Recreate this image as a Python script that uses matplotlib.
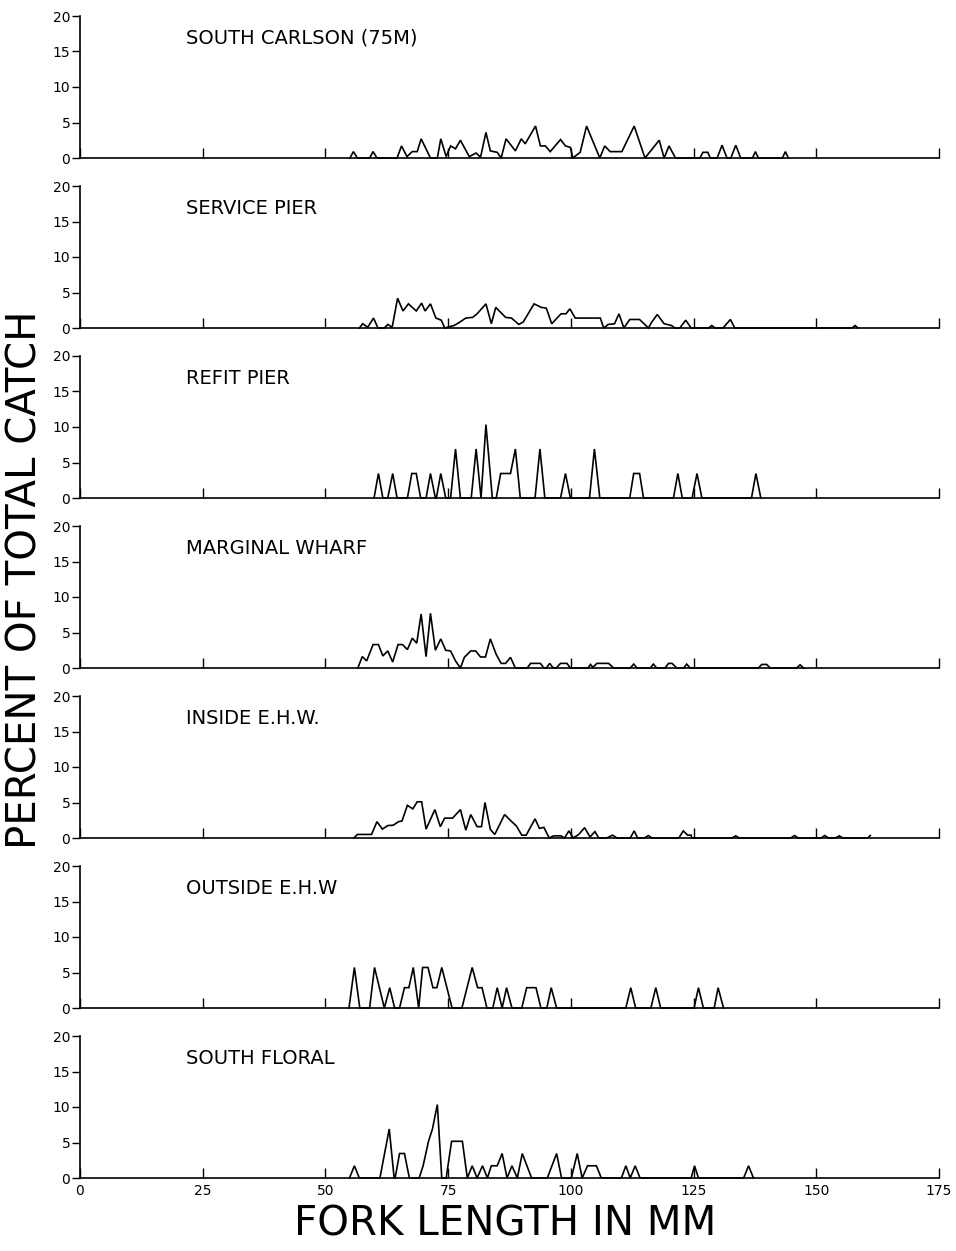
import matplotlib

matplotlib.use("Agg")
from matplotlib import pyplot as plt
from matplotlib import font_manager as fm

# fork length (mm) / percent of total catch, one pair per station
sc_len = [55.0, 55.7, 56.5, 59.0, 59.7, 60.5, 64.6, 65.5, 66.6, 67.7, 68.7, 69.5, 71.4,
          72.8, 73.5, 74.6, 75.5, 76.5, 77.5, 79.3, 80.7, 81.6, 82.7, 83.6, 85.0, 85.8,
          86.8, 88.7, 89.9, 90.7, 92.8, 93.8, 94.8, 95.8, 97.9, 98.9, 99.9, 100.4,
          101.9, 103.2, 105.9, 106.9, 108.0, 110.4, 112.9, 115.1, 118.0, 119.0, 120.0,
          121.3, 126.3, 126.9, 127.9, 128.4, 129.8, 130.8, 131.8, 132.6, 133.6, 134.6,
          137.0, 137.6, 138.2, 143.1, 143.7, 144.3]
sc_pct = [0, 0.9, 0, 0, 0.9, 0, 0, 1.7, 0.2, 0.9, 0.9, 2.7, 0,
          0, 2.7, 0.2, 1.7, 1.3, 2.5, 0.2, 0.7, 0.1, 3.6, 1.0, 0.8, 0,
          2.7, 1.0, 2.7, 2.0, 4.5, 1.7, 1.7, 0.9, 2.6, 1.7, 1.5, 0,
          0.8, 4.5, 0, 1.7, 0.9, 0.9, 4.5, 0, 2.5, 0, 1.7,
          0, 0, 0.8, 0.8, 0, 0, 1.8, 0, 0, 1.8, 0,
          0, 0.9, 0, 0, 0.9, 0]

sp_len = [56.9, 57.6, 58.6, 59.8, 60.7, 62.0, 62.7, 63.6, 64.7, 65.8, 66.9, 68.5, 69.6,
          70.3, 71.4, 72.5, 73.6, 74.3, 76.2, 77.2, 78.6, 80.0, 80.9, 82.7, 83.8, 84.7,
          86.7, 87.9, 89.4, 90.3, 92.5, 94.0, 95.0, 96.1, 98.0, 99.0, 99.8, 100.9,
          106.0, 106.7, 107.6, 108.9, 109.8, 110.8, 112.0, 114.0, 115.8, 116.5, 117.6,
          119.0, 120.5, 121.2, 122.2, 123.4, 124.5, 128.1, 128.7, 129.4, 131.0, 132.5,
          133.4, 157.3, 157.9, 158.5]
sp_pct = [0, 0.6, 0.1, 1.4, 0, 0, 0.5, 0.1, 4.2, 2.4, 3.4, 2.4, 3.5,
          2.4, 3.4, 1.4, 1.1, 0, 0.35, 0.75, 1.4, 1.5, 2.0, 3.4, 0.6, 2.9,
          1.5, 1.4, 0.5, 0.85, 3.4, 2.9, 2.8, 0.6, 2.0, 2.0, 2.7, 1.4,
          1.4, 0, 0.5, 0.6, 2.0, 0, 1.2, 1.2, 0, 0.85, 1.9,
          0.6, 0.35, 0, 0, 1.1, 0, 0, 0.35, 0, 0, 1.2,
          0, 0, 0.35, 0]

rp_len = [59.9, 60.8, 61.7, 62.7, 63.7, 64.6, 66.7, 67.6, 68.5, 69.4, 70.5, 71.4, 72.4,
          72.6, 73.5, 74.5, 75.5, 76.5, 77.5, 79.7, 80.7, 81.7, 82.7, 84.0, 84.8, 85.7,
          87.7, 88.7, 89.7, 92.7, 93.7, 94.7, 97.9, 98.9, 99.9, 103.8, 104.8, 105.9,
          112.0, 112.8, 114.0, 114.8, 120.9, 121.8, 122.7, 124.7, 125.7, 126.7, 136.8,
          137.7, 138.7]
rp_pct = [0, 3.45, 0, 0, 3.45, 0, 0, 3.45, 3.45, 0, 0, 3.45, 0,
          0, 3.45, 0, 0, 6.9, 0, 0, 6.9, 0, 10.34, 0, 0, 3.45,
          3.45, 6.9, 0, 0, 6.9, 0, 0, 3.45, 0, 0, 6.9, 0,
          0, 3.45, 3.45, 0, 0, 3.45, 0, 0, 3.45, 0, 0,
          3.45, 0]

mw_len = [56.6, 57.5, 58.4, 59.7, 60.8, 61.7, 62.7, 63.7, 64.8, 65.7, 66.7, 67.7, 68.6,
          69.5, 70.5, 71.4, 72.4, 73.5, 74.5, 75.5, 76.5, 77.5, 78.3, 79.6, 80.6, 81.6,
          82.6, 83.6, 84.8, 85.8, 86.7, 87.7, 88.7, 91.1, 91.8, 93.8, 94.5, 95.0, 95.7,
          96.4, 97.0, 97.9, 99.2, 99.9, 103.5, 104.0, 104.5, 105.3, 107.7, 108.7, 112.1,
          112.8, 113.5, 116.2, 116.8, 117.5, 119.2, 119.9, 120.6, 121.6, 123.0, 123.6,
          124.3, 138.2, 138.9, 139.9, 140.6, 146.0, 146.7, 147.4]
mw_pct = [0, 1.6, 1.0, 3.3, 3.3, 1.7, 2.4, 0.85, 3.3, 3.3, 2.6, 4.2, 3.5,
          7.6, 1.6, 7.7, 2.5, 4.1, 2.5, 2.4, 1.0, 0, 1.5, 2.4, 2.4, 1.55,
          1.55, 4.1, 1.9, 0.65, 0.65, 1.5, 0, 0, 0.65, 0.65, 0, 0, 0.65,
          0, 0, 0.65, 0.65, 0, 0, 0.5, 0.1, 0.65, 0.65, 0, 0,
          0.55, 0, 0, 0.55, 0, 0, 0.65, 0.65, 0, 0, 0.55,
          0, 0, 0.5, 0.5, 0, 0, 0.45, 0]

ie_len = [55.8, 56.5, 59.4, 60.5, 61.6, 62.7, 63.8, 64.9, 65.6, 66.7, 67.8, 68.7, 69.6,
          70.5, 72.3, 73.4, 74.3, 75.9, 77.5, 78.6, 79.6, 80.9, 81.8, 82.5, 83.6, 84.5,
          86.5, 87.8, 88.9, 90.0, 90.9, 92.7, 93.6, 94.5, 95.6, 96.5, 98.0, 98.7, 99.6,
          100.5, 101.6, 102.8, 103.9, 104.9, 105.7, 107.3, 108.5, 109.4, 112.1, 112.9,
          113.6, 115.0, 115.8, 116.5, 122.0, 122.9, 123.8, 124.5, 124.6, 132.8, 133.6,
          134.3, 144.8, 145.6, 146.3, 151.0, 151.7, 152.5, 153.9, 154.7, 155.4, 160.5,
          161.0]
ie_pct = [0, 0.5, 0.5, 2.3, 1.25, 1.75, 1.8, 2.3, 2.4, 4.6, 4.1, 5.1, 5.1,
          1.25, 4.0, 1.6, 2.8, 2.8, 4.0, 1.1, 3.3, 1.6, 1.6, 5.0, 1.2, 0.5,
          3.3, 2.4, 1.7, 0.4, 0.4, 2.7, 1.35, 1.5, 0, 0.3, 0.3, 0, 1.0,
          0, 0.5, 1.45, 0.15, 0.9, 0, 0, 0.4, 0, 0, 1.0,
          0, 0, 0.35, 0, 0, 1.0, 0.4, 0.4, 0, 0, 0.3,
          0, 0, 0.35, 0, 0, 0.35, 0, 0, 0.3, 0, 0,
          0.35]

oe_len = [54.8, 55.9, 57.0, 59.0, 60.0, 62.0, 63.1, 64.1, 65.1, 66.1, 67.0, 67.9, 69.0,
          69.8, 70.9, 71.9, 72.7, 73.7, 75.8, 77.8, 79.9, 81.0, 81.9, 82.9, 84.1, 85.0,
          86.0, 86.9, 88.0, 90.0, 91.0, 92.9, 93.9, 95.1, 96.0, 97.1, 111.2, 112.2,
          113.2, 116.3, 117.3, 118.3, 125.1, 126.0, 127.0, 129.2, 130.0, 131.1]
oe_pct = [0, 5.71, 0, 0, 5.71, 0, 2.86, 0, 0, 2.86, 2.86, 5.71, 0,
          5.71, 5.71, 2.86, 2.86, 5.71, 0, 0, 5.71, 2.86, 2.86, 0, 0, 2.86,
          0, 2.86, 0, 0, 2.86, 2.86, 0, 0, 2.86, 0, 0, 2.86,
          0, 0, 2.86, 0, 0, 2.86, 0, 0, 2.86, 0]

sf_len = [54.9, 55.9, 56.9, 61.1, 63.0, 64.0, 64.2, 65.1, 66.1, 67.1, 69.1, 69.9, 71.0,
          71.8, 72.8, 73.7, 74.6, 75.7, 77.9, 78.9, 79.9, 80.9, 82.0, 83.0, 83.8, 85.0,
          86.0, 87.0, 88.0, 89.1, 90.1, 92.0, 95.2, 97.1, 98.1, 100.1, 101.3, 102.3,
          103.4, 105.2, 106.2, 110.3, 111.2, 112.1, 113.1, 114.1, 124.5, 125.2, 126.0,
          135.2, 136.2, 137.2]
sf_pct = [0, 1.72, 0, 0, 6.9, 0, 0, 3.45, 3.45, 0, 0, 1.72, 5.17,
          6.9, 10.34, 0, 0, 5.17, 5.17, 0, 1.72, 0, 1.72, 0, 1.72, 1.72,
          3.45, 0, 1.72, 0, 3.45, 0, 0, 3.45, 0, 0, 3.45, 0,
          1.72, 1.72, 0, 0, 1.72, 0, 1.72, 0, 0, 1.72, 0,
          0, 1.72, 0]

stations = ["SOUTH CARLSON (75M)", "SERVICE PIER", "REFIT PIER", "MARGINAL WHARF",
            "INSIDE E.H.W.", "OUTSIDE E.H.W", "SOUTH FLORAL"]
lengths = [sc_len, sp_len, rp_len, mw_len, ie_len, oe_len, sf_len]
percents = [sc_pct, sp_pct, rp_pct, mw_pct, ie_pct, oe_pct, sf_pct]

x_ticks = [0, 25, 50, 75, 100, 125, 150, 175]
y_ticks = [0, 5, 10, 15, 20]


def pick_family(names):
    for name in names:
        try:
            fm.findfont(fm.FontProperties(family=name), fallback_to_default=False)
            return name
        except ValueError:
            continue
    return "DejaVu Sans"


FAMILY = pick_family(["Liberation Sans Narrow", "DejaVu Sans"])
NARROW = FAMILY != "DejaVu Sans"
plt.rcParams["font.family"] = [FAMILY, "DejaVu Sans"]

TITLE_SIZE = 16 if NARROW else 14
TICK_SIZE = 11 if NARROW else 10
LABEL_SIZE = 36 if NARROW else 29


def draw_panel(ax, name, x, y, show_xlabels):
    ax.plot(x, y, color="black", lw=1.2, clip_on=False, solid_joinstyle="miter")
    ax.set_xlim(0, 175)
    ax.set_ylim(0, 20)
    for side in ("top", "right"):
        ax.spines[side].set_visible(False)
    for side in ("left", "bottom"):
        ax.spines[side].set_linewidth(1.2)
    ax.set_yticks(y_ticks)
    ax.set_xticks(x_ticks)
    ax.tick_params(axis="y", direction="out", length=6, width=1.0,
                   labelsize=TICK_SIZE, pad=1)
    ax.tick_params(axis="x", direction="in", length=7, width=1.0,
                   labelsize=TICK_SIZE, pad=4, labelbottom=show_xlabels)
    ax.text(21.5, 16.9, name, fontsize=TITLE_SIZE, va="center", ha="left")
    ax.patch.set_visible(False)


def main():
    fig = plt.figure(figsize=(9.56, 12.51), dpi=100)
    W, H = 956, 1251
    left, right = 80, 939
    top0, height, step = 16, 142, 170

    for i, (name, x, y) in enumerate(zip(stations, lengths, percents)):
        top = top0 + i * step
        ax = fig.add_axes([left / W, 1 - (top + height) / H,
                           (right - left) / W, height / H])
        draw_panel(ax, name, x, y, i == len(stations) - 1)

    fig.text(505 / W, 1 - 1225 / H, "FORK LENGTH IN MM", fontsize=LABEL_SIZE,
             ha="center", va="center")
    fig.text(26 / W, 1 - 580 / H, "PERCENT OF TOTAL CATCH", fontsize=LABEL_SIZE,
             ha="center", va="center", rotation=90)

    fig.savefig("out.png", dpi=100, facecolor="white")


if __name__ == "__main__":
    main()
